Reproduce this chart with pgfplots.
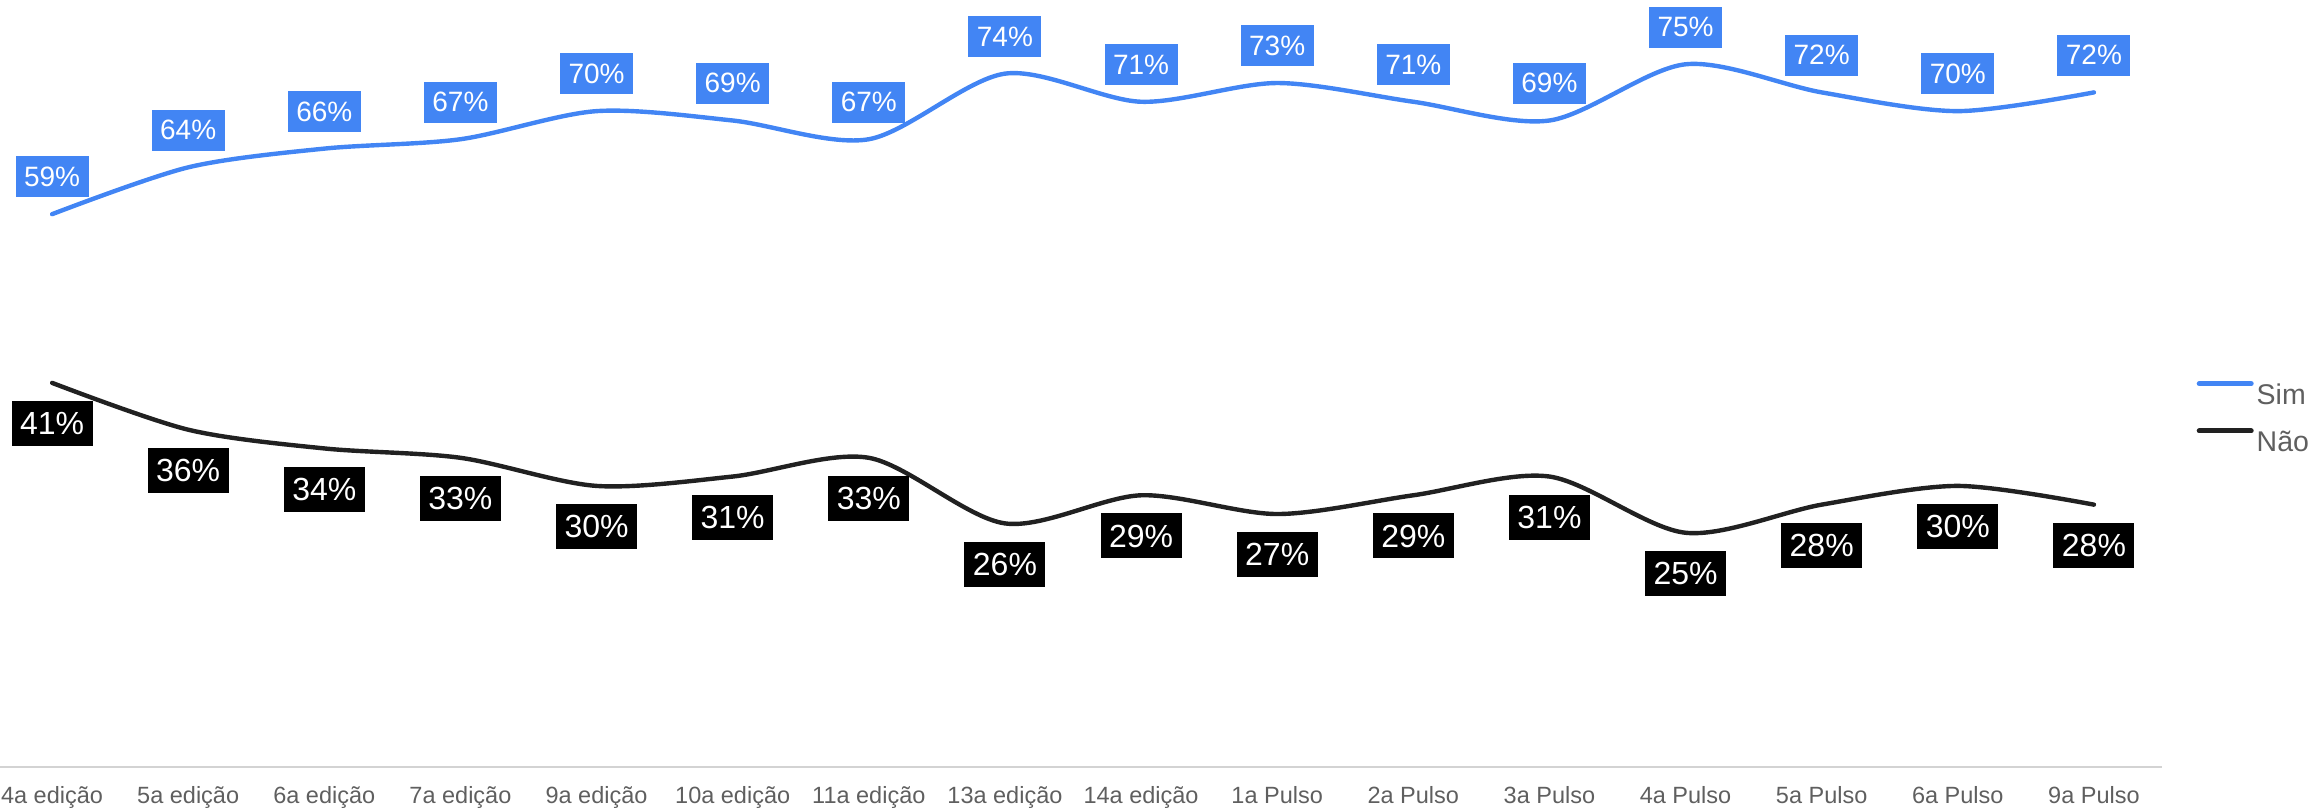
\documentclass[border=0pt]{standalone}
\usepackage{fontspec}
\setmainfont{Liberation Sans}
\usepackage{pgfplots}
\pgfplotsset{compat=1.18}

\definecolor{simblue}{HTML}{4285F4}
\definecolor{naodark}{HTML}{212121}
\definecolor{tickgray}{HTML}{5F5F5F}
\definecolor{axisgray}{HTML}{D3D3D3}

\begin{document}
\begin{tikzpicture}
\begin{axis}[
    name=ax,
    scale only axis, width=1089pt, height=383.5pt,
    xmin=-0.5, xmax=15.5, ymin=0, ymax=81.86,
    axis x line=bottom, axis y line=none,
    x axis line style={-, draw=axisgray, line width=1pt},
    xtick={0,...,15},
    xticklabels={4a edição,5a edição,6a edição,7a edição,9a edição,10a edição,11a edição,13a edição,14a edição,1a Pulso,2a Pulso,3a Pulso,4a Pulso,5a Pulso,6a Pulso,9a Pulso},
    major tick length=0pt,
    xticklabel style={font=\fontsize{11.75}{14}\selectfont, text=tickgray, anchor=base, yshift=-18pt, inner sep=0pt},
    clip=false,
    /pgf/number format/assume math mode=true,
    nodes near coords={\pgfmathprintnumber{\pgfplotspointmeta}\%},
    legend style={at={(axis description cs:1.0130,0.4570)}, anchor=west,
        draw=none, fill=none, font=\fontsize{14.25}{16}\selectfont, text=tickgray,
        nodes={inner sep=0pt, text height=10.5pt, text depth=0pt},
        row sep=12pt, column sep=1.5pt},
    legend cell align=left,
    legend image code/.code={\draw[#1, line width=2.5pt, line cap=round] (1.25pt,5.1pt) -- (27.25pt,5.1pt);},
]
% Sim
\addplot[simblue, line width=2.2pt, line cap=round, smooth,
    every node near coord/.append style={fill=simblue, text=white, anchor=south,
        yshift=7.25pt, inner xsep=4.25pt, inner ysep=0pt, minimum height=20.5pt,
        font=\fontsize{14}{16}\selectfont}]
    coordinates {(0,59) (1,64) (2,66) (3,67) (4,70) (5,69) (6,67) (7,74)
                 (8,71) (9,73) (10,71) (11,69) (12,75) (13,72) (14,70) (15,72)};
\addlegendentry{Sim}
% Não
\addplot[naodark, line width=2.2pt, line cap=round, smooth,
    every node near coord/.append style={fill=black, text=white, anchor=north,
        yshift=-8pt, inner xsep=4.25pt, inner ysep=0pt, minimum height=22.5pt,
        font=\fontsize{16}{18}\selectfont}]
    coordinates {(0,41) (1,36) (2,34) (3,33) (4,30) (5,31) (6,33) (7,26)
                 (8,29) (9,27) (10,29) (11,31) (12,25) (13,28) (14,30) (15,28)};
\addlegendentry{Não}
\end{axis}
\pgfresetboundingbox
\path[use as bounding box] ([shift={(8pt,-21pt)}]ax.south west) rectangle ([shift={(1164.5pt,383.5pt)}]ax.south west);
\end{tikzpicture}
\end{document}
